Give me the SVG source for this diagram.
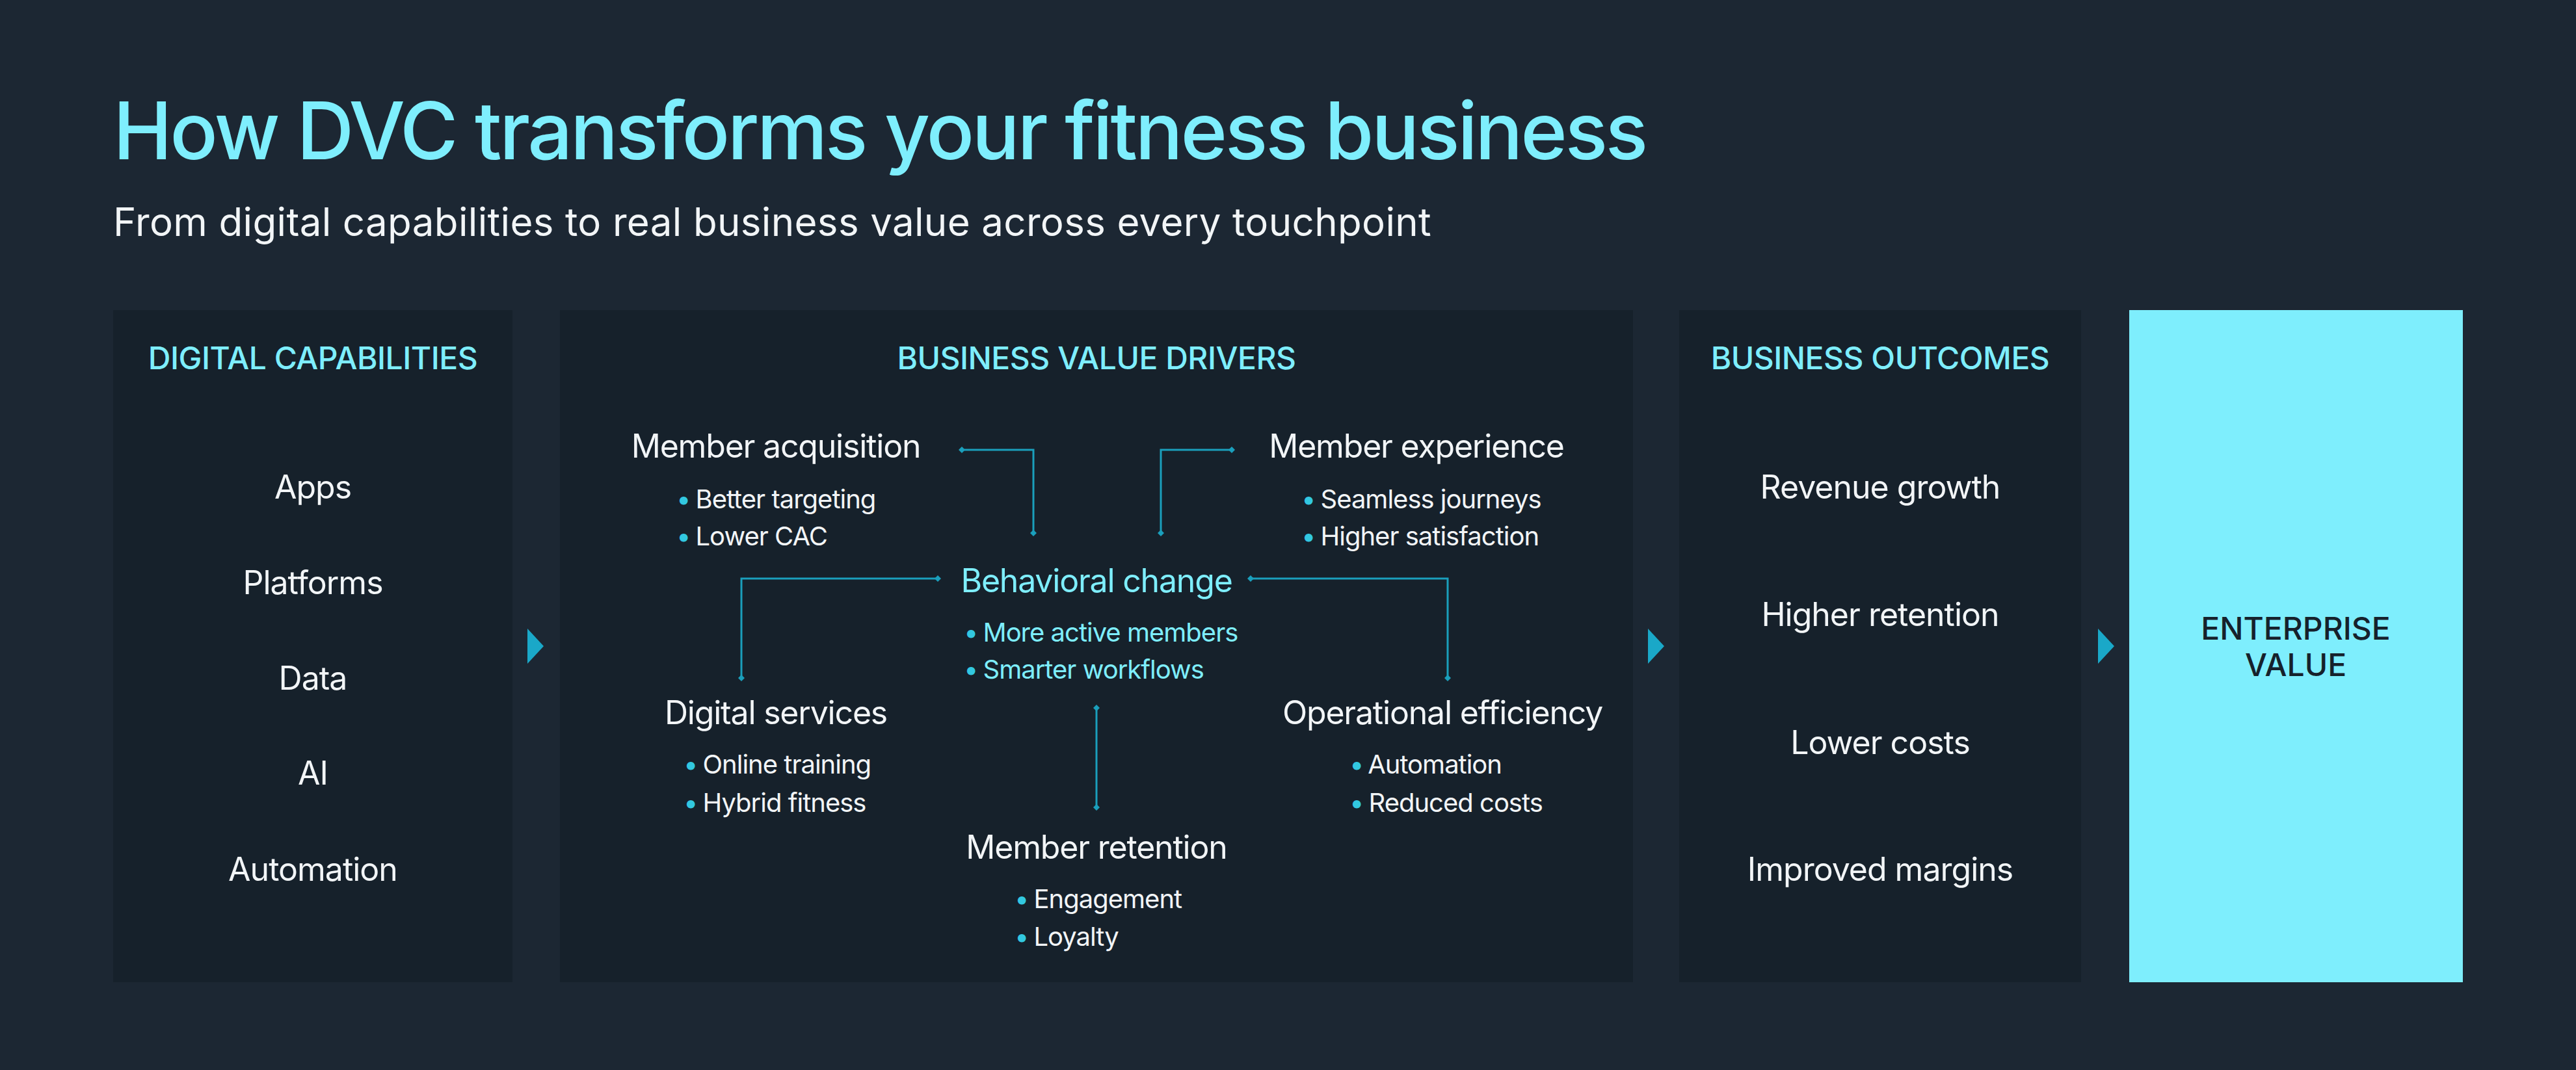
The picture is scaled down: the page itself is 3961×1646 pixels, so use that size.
<svg xmlns="http://www.w3.org/2000/svg" width="3961" height="1646" viewBox="0 0 3961 1646">
<defs>
<style>
text{font-family:Inter,"Noto Sans",sans-serif}
.panel{fill:#16212b}
.hd{fill:#7eeefd;font-size:48px;font-weight:500;text-anchor:middle;letter-spacing:-0.5px}
.it{fill:#f2f5f7;font-size:50px;text-anchor:middle;letter-spacing:-1px}
.nh{fill:#f2f5f7;font-size:50px;text-anchor:middle;letter-spacing:-1.2px}
.nb{fill:#f2f5f7;font-size:40px;letter-spacing:-1px}
.cy{fill:#7eeefd}
.bl{fill:#32c8e0}
.tri{fill:#1aa8c8}
.cn{fill:none;stroke:#1a9fbc;stroke-width:3}
</style>
<marker id="d" viewBox="-5 -5 10 10" markerWidth="10" markerHeight="10" markerUnits="userSpaceOnUse" orient="auto"><path d="M-5 0L0-5L5 0L0 5Z" fill="#1a9fbc"/></marker>
</defs>
<rect width="3961" height="1646" fill="#1c2733"/>
<text x="174" y="245" font-size="122" font-weight="500" fill="#7eeefd" style="letter-spacing:-3.5px">How DVC transforms your fitness business</text>
<text x="174" y="363" font-size="60" fill="#f2f5f7" style="letter-spacing:0.35px">From digital capabilities to real business value across every touchpoint</text>

<g id="capabilities">
<rect class="panel" x="174" y="477" width="614" height="1034"/>
<text class="hd" x="481" y="568">DIGITAL CAPABILITIES</text>
<text class="it" x="481" y="767">Apps</text>
<text class="it" x="481" y="914">Platforms</text>
<text class="it" x="481" y="1061">Data</text>
<text class="it" x="481" y="1207">AI</text>
<text class="it" x="481" y="1355">Automation</text>
</g>
<g id="drivers">
<rect class="panel" x="861" y="477" width="1650" height="1034"/>
<text class="hd" x="1686" y="568">BUSINESS VALUE DRIVERS</text>
</g>
<g id="acquisition">
<text class="nh" x="1193" y="704">Member acquisition</text>
<text class="nb" x="1040" y="782"><tspan class="bl">•</tspan><tspan dx="8">Better targeting</tspan></text>
<text class="nb" x="1040" y="839"><tspan class="bl">•</tspan><tspan dx="8">Lower CAC</tspan></text>
</g>
<g id="experience">
<text class="nh" x="2178" y="704">Member experience</text>
<text class="nb" x="2001" y="782"><tspan class="bl">•</tspan><tspan dx="8">Seamless journeys</tspan></text>
<text class="nb" x="2001" y="839"><tspan class="bl">•</tspan><tspan dx="8">Higher satisfaction</tspan></text>
</g>
<g id="behavioral">
<text class="nh cy" x="1686" y="911">Behavioral change</text>
<text class="nb cy" x="1482" y="987"><tspan class="bl">•</tspan><tspan dx="8">More active members</tspan></text>
<text class="nb cy" x="1482" y="1044"><tspan class="bl">•</tspan><tspan dx="8">Smarter workflows</tspan></text>
</g>
<g id="digital-services">
<text class="nh" x="1193" y="1114">Digital services</text>
<text class="nb" x="1051" y="1190"><tspan class="bl">•</tspan><tspan dx="8">Online training</tspan></text>
<text class="nb" x="1051" y="1249"><tspan class="bl">•</tspan><tspan dx="8">Hybrid fitness</tspan></text>
</g>
<g id="operational">
<text class="nh" x="2218" y="1114">Operational efficiency</text>
<text class="nb" x="2075" y="1190"><tspan class="bl">•</tspan><tspan dx="8">Automation</tspan></text>
<text class="nb" x="2075" y="1249"><tspan class="bl">•</tspan><tspan dx="8">Reduced costs</tspan></text>
</g>
<g id="retention">
<text class="nh" x="1686" y="1321">Member retention</text>
<text class="nb" x="1560" y="1397"><tspan class="bl">•</tspan><tspan dx="8">Engagement</tspan></text>
<text class="nb" x="1560" y="1455"><tspan class="bl">•</tspan><tspan dx="8">Loyalty</tspan></text>
</g>
<g id="outcomes">
<rect class="panel" x="2582" y="477" width="618" height="1034"/>
<text class="hd" x="2891" y="568">BUSINESS OUTCOMES</text>
<text class="it" x="2891" y="767">Revenue growth</text>
<text class="it" x="2891" y="963">Higher retention</text>
<text class="it" x="2891" y="1160">Lower costs</text>
<text class="it" x="2891" y="1355">Improved margins</text>
</g>
<g id="enterprise">
<rect x="3274" y="477" width="513" height="1034" fill="#7eeefd"/>
<text x="3530" y="984" font-size="48" font-weight="500" fill="#16212b" text-anchor="middle">ENTERPRISE</text>
<text x="3530" y="1040" font-size="48" font-weight="500" fill="#16212b" text-anchor="middle">VALUE</text>
</g>
<g id="connectors">
<path class="cn" marker-start="url(#d)" marker-end="url(#d)" d="M1479 692H1589V820"/>
<path class="cn" marker-start="url(#d)" marker-end="url(#d)" d="M1785 820V692H1894"/>
<path class="cn" marker-start="url(#d)" marker-end="url(#d)" d="M1442 890H1140V1043"/>
<path class="cn" marker-start="url(#d)" marker-end="url(#d)" d="M1923 890H2226V1043"/>
<path class="cn" marker-start="url(#d)" marker-end="url(#d)" d="M1686 1089V1242"/>
<path class="tri" d="M811 967L836 994L811 1021Z"/>
<path class="tri" d="M2534 967L2559 994L2534 1021Z"/>
<path class="tri" d="M3226 967L3251 994L3226 1021Z"/>
</g>
</svg>
